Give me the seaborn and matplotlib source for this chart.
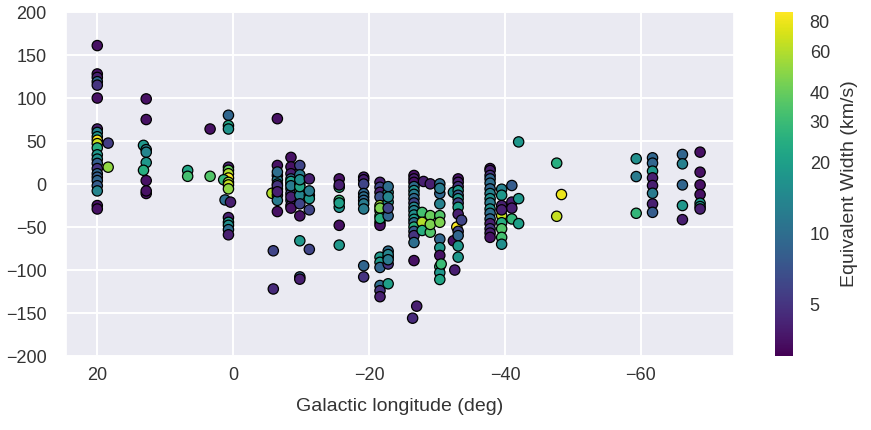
import matplotlib
matplotlib.use("Agg")
import matplotlib.pyplot as plt
from matplotlib.colors import LogNorm
from matplotlib.cm import ScalarMappable
from matplotlib.ticker import FixedLocator, FixedFormatter, NullLocator
import seaborn as sns
import pandas as pd

# (longitude deg, velocity km/s, equivalent width km/s)
longitude = [
    20, 20, 20, 20, 20, 20, 20, 20, 20, 20, 20, 18.4, 20, 20, 20, 20, 18.4, 20, 20, 20, 20, 20, 20, 20, 20,
    12.8, 12.8, 13.2, 12.8, 12.8, 12.8, 13.2, 12.8, 12.8, 12.8,
    6.7, 6.7, 3.4, 3.4,
    0.7, 0.7, 0.7, 0.7, 0.7, 0.7, 0.7, 1.4, 0.7, 0.7, 0.7, 1.2, 0.4, 0.7, 0.7, 0.7, 0.7, 0.7,
    -5.7, -6.5, -6.5, -6.5, -6.5, -6.5, -6.5, -6.5, -6.5, -6.5, -5.9, -5.9, -6.5, -6.5, -6.5,
    -8.5, -8.5, -8.5, -8.5, -8.5, -8.5, -8.5, -8.5, -8.5, -8.5, -8.5, -8.5, -8.5,
    -9.8, -9.8, -9.8, -9.8, -9.8, -9.8, -9.8, -9.8, -9.8, -9.8, -9.8, -9.8,
    -11.2, -11.2, -11.2, -11.2, -11.2, -11.2,
    -15.6, -15.6, -15.6, -15.6, -15.6, -15.6, -15.6, -15.6,
    -19.2, -19.2, -19.2, -19.2, -19.2, -19.2, -19.2, -19.2, -19.2, -19.2,
    -21.6, -21.6, -21.6, -21.6, -21.6, -21.6, -21.6, -21.6, -21.6, -21.6, -21.6, -21.6, -21.6, -21.6,
    -21.6, -21.6, -21.6,
    -22.8, -22.8, -22.8, -22.8, -22.8, -22.8, -22.8, -22.8, -22.8, -22.8, -22.8, -22.8,
    -26.6, -26.6, -26.6, -26.6, -26.6, -26.6, -26.6, -26.6, -26.6, -26.6, -26.6, -26.6, -26.6, -26.6,
    -26.6, -26.6, -26.6, -26.6, -27.0, -26.4,
    -27.8, -27.8, -27.8, -28.0,
    -29.0, -29.0, -29.0, -29.0,
    -30.4, -30.4, -30.4, -30.4, -30.4, -30.4, -30.4, -30.4, -30.4, -30.4, -30.4, -30.6, -30.4,
    -32.6, -32.4, -32.4,
    -33.1, -33.1, -33.1, -33.1, -33.1, -33.1, -33.1, -33.1, -33.1, -32.9, -33.1, -33.1, -33.1, -33.1,
    -33.6,
    -37.8, -37.8, -37.8, -37.8, -37.8, -37.8, -37.8, -37.8, -37.8, -37.8, -37.8, -37.8, -37.8, -37.8,
    -37.8, -37.8,
    -39.5, -39.5, -39.5, -39.5, -39.5, -39.5, -39.5, -39.5, -39.5,
    -41.0, -41.0, -41.0, -41.0,
    -42.0, -42.0, -42.0,
    -47.6, -48.3, -47.6,
    -59.3, -59.3, -59.3,
    -61.7, -61.7, -61.7, -61.7, -61.7, -61.7, -61.7, -61.7,
    -66.1, -66.1, -66.1, -66.1, -66.1,
    -68.7, -68.7, -68.7, -68.7, -68.7, -68.7, -68.7,
]
velocity = [
    161, 128, 124, 119, 115, 100, 64, 60, 55, 51, 47, 47.6, 42, 34, 29, 24, 19.6, 18, 12, 8, 4, -2, -8, -25, -29,
    99, 75, 45, 40, 37, 25, 16, 4, -11, -8,
    15.7, 9, 9, 64,
    80, 68, 64, 19.6, 16, 12, 7, 5, 2, -1, -5.6, -18.5, -21, -39, -44.5, -48, -53, -59,
    -10.7, 76, 21.6, 9.9, 4.9, 0, -5.6, -13, -19, -32, -77.6, -122, 14, -2, -9,
    31, 20, 12, 6, 0, -5.6, -11, -19, -25, -28, -15, 3, -2,
    21.6, 10.7, 0, -7.6, -13, -23, -37, -66, -108, -110.6, -3, 5,
    6, -13, -17, -30, -76, -8,
    6, -3.7, -19, -27, -48, -71, -1, -22,
    8, 5, 0, -11, -15, -19, -23, -29, -95, -108,
    2, -3.7, -9.6, -15, -25, -31, -37, -44.5, -48, -85, -91, -97, -118, -124,
    -131, -28, -40,
    -9.6, -21, -37, -78, -85, -93, -116, -3, -15, -28, -82, -88,
    10, 6, 2, -3, -7.6, -12, -17, -22, -27, -31, -36, -41, -45, -50,
    -55, -60, -68, -89, -142, -156,
    -33, -44.5, -54, 3,
    0.2, -36.7, -56, -47,
    0.2, -11, -23, -36.7, -44.5, -64, -74, -83, -96, -103, -111, -93, -5,
    -100, -9.6, -66,
    6, 2, -3, -7.6, -13, -17, -22, -27, -35, -50, -55, -60, -72, -85,
    -42,
    18, 15.7, 10, 6, 1, -5.6, -11, -17, -22, -29, -34, -40.6, -46, -52,
    -57, -62,
    -6, -13, -25, -36.7, -45, -52, -62, -70, -30,
    -1.7, -21, -28, -40.6,
    -17, -46, 49,
    24.3, -12.2, -37.5,
    29.4, 8.7, -34,
    30.5, 24.3, 15, 7.2, -1.7, -10.7, -23.1, -32.9,
    34.4, 23.5, -1, -25, -41.4,
    37.1, 13.8, -1, -12.2, -22.3, -26.2, -29,
]
ew = [
    3.5, 3.5, 4, 9, 5, 3.5, 4, 13, 18, 85, 65, 5.5, 25, 18, 16, 8, 50, 5, 9, 8, 9, 8, 14, 3.5, 3.5,
    3.5, 3.5, 18, 13, 14, 18, 25, 3.5, 3.5, 3.5,
    22, 32, 35, 3.5,
    9, 22, 17, 4, 40, 60, 85, 28, 55, 65, 50, 10, 4, 4, 18, 16, 10, 4,
    60, 3.5, 3.5, 4, 12, 15, 4, 8, 12, 3.5, 6, 4.5, 10, 5, 4,
    3.5, 3.5, 4, 9, 5, 17, 6, 9, 4, 3.5, 4, 20, 12,
    6, 12, 18, 38, 14, 6, 3.5, 18, 9, 4, 22, 16,
    4, 25, 18, 6, 6, 12,
    3.5, 25, 30, 17, 3.5, 18, 4, 20,
    4, 4, 6, 9, 10, 9, 12, 12, 9, 5,
    4, 6, 4, 7, 55, 35, 30, 18, 3.5, 18, 18, 9, 10, 5,
    4, 45, 25,
    16, 17, 9, 10, 20, 5, 20, 10, 14, 6, 14, 12,
    3.5, 4, 3.5, 10, 16, 12, 9, 6, 14, 13, 16, 18, 10, 25,
    8, 5, 10, 3.5, 4, 4.5,
    32, 60, 25, 4,
    4, 40, 35, 45,
    10, 9, 13, 35, 45, 9, 18, 3.5, 28, 18, 22, 30, 12,
    4, 16, 3.5,
    3.5, 4, 5, 18, 8, 18, 6, 20, 4, 85, 6, 9, 18, 18,
    6,
    3.5, 4, 5, 9, 10, 9, 13, 16, 12, 16, 10, 9, 4, 5,
    4, 3.5,
    13, 18, 4, 65, 25, 35, 32, 16, 4,
    8, 4, 4, 28,
    18, 20, 18,
    25, 80, 65,
    16, 12, 28,
    9, 9, 18, 4, 4, 12, 4, 8,
    9, 13, 9, 18, 4,
    3.5, 3.5, 3.5, 3.5, 18, 18, 4,
]

cbar_ticks = [5, 10, 20, 30, 40, 60, 80]

df = pd.DataFrame({"l": longitude, "v": velocity, "ew": ew})

sns.set_theme(style="darkgrid")
plt.rcParams["font.family"] = ["Liberation Sans", "DejaVu Sans"]
plt.rcParams["axes.unicode_minus"] = True

fig = plt.figure(figsize=(8.71, 4.30), dpi=100)
ax = fig.add_axes([0.0758, 0.172, 0.767, 0.800])
cax = fig.add_axes([0.8898, 0.172, 0.0206, 0.800])

norm = LogNorm(vmin=3.0, vmax=88.0)
sns.scatterplot(data=df, x="l", y="v", hue="ew", hue_norm=norm, palette="viridis",
                s=55, edgecolor="black", linewidth=0.9, legend=False, ax=ax, zorder=3)

ax.set_xlim(24.6, -73.7)
ax.set_ylim(-200, 200)
ax.set_xticks([20, 0, -20, -40, -60])
ax.set_yticks(range(-200, 201, 50))
ax.set_xlabel("Galactic longitude (deg)", fontsize=14, color="#333333", labelpad=10)
ax.set_ylabel("")
ax.tick_params(axis="x", labelsize=13, colors="#333333", length=0, pad=8)
ax.tick_params(axis="y", labelsize=13, colors="#333333", length=0, pad=14)
ax.grid(True, color="white", linewidth=1.4)

sm = ScalarMappable(norm=norm, cmap="viridis")
cb = fig.colorbar(sm, cax=cax)
cb.outline.set_visible(False)
cax.yaxis.set_major_locator(FixedLocator(cbar_ticks))
cax.yaxis.set_major_formatter(FixedFormatter([str(t) for t in cbar_ticks]))
cax.yaxis.set_minor_locator(NullLocator())
cax.tick_params(labelsize=13, colors="#333333", length=0, pad=12)
cb.set_label("Equivalent Width (km/s)", fontsize=14, color="#333333", labelpad=8)
cax.grid(False)

fig.savefig("out.png", dpi=100)
